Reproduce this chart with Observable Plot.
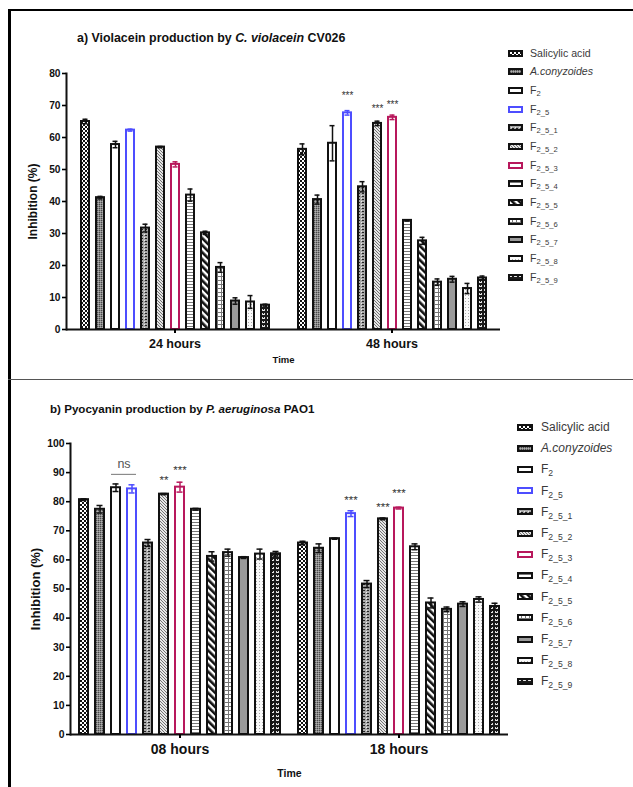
<!DOCTYPE html>
<html>
<head>
<meta charset="utf-8">
<script src="https://cdn.jsdelivr.net/npm/d3@7"></script>
<script src="https://cdn.jsdelivr.net/npm/@observablehq/plot@0.6"></script>
<style>
  body { margin: 0; width: 633px; height: 787px; overflow: hidden; background: #fff; position: relative;
         font-family: "Liberation Sans", Arial, Helvetica, sans-serif; }
  #box { position: absolute; left: 8px; top: 9px; width: 700px; height: 900px;
         border-top: 2.5px solid #000; border-left: 3px solid #000; }
  #sep { position: absolute; left: 8px; top: 379px; width: 700px; border-top: 1.5px solid #555; }
  .chart { position: absolute; left: 0; }
  .title { position: absolute; font-weight: bold; white-space: nowrap; color: #111; line-height: 1; }
  .legend { position: absolute; color: #3a3a3a; }
  .legend .row { position: absolute; left: 0; display: flex; align-items: center; white-space: nowrap; line-height: 1; }
  .legend sub { font-size: 72%; vertical-align: -0.3em; line-height: 0; }
  #defs { position: absolute; width: 0; height: 0; }
</style>
</head>
<body>
<svg id="defs" aria-hidden="true">
  <defs>
    <pattern id="p-sal" width="4" height="4" patternUnits="userSpaceOnUse">
      <rect width="4" height="4" fill="#111"/>
      <rect x="0" y="0" width="2" height="2" fill="#fff"/>
      <rect x="2" y="2" width="2" height="2" fill="#fff"/>
    </pattern>
    <pattern id="p-acon" width="2" height="2" patternUnits="userSpaceOnUse">
      <rect width="2" height="2" fill="#8a8a8a"/>
      <rect width="1" height="1" fill="#4a4a4a"/>
      <rect x="1" y="1" width="1" height="1" fill="#b0b0b0"/>
    </pattern>
    <pattern id="p-51" width="4" height="3" patternUnits="userSpaceOnUse">
      <rect width="4" height="3" fill="#a8a8a8"/>
      <rect x="0" y="1" width="2" height="1" fill="#222"/>
      <rect x="3" y="0" width="1" height="1" fill="#eee"/>
    </pattern>
    <pattern id="p-52" width="3" height="3" patternUnits="userSpaceOnUse">
      <rect width="3" height="3" fill="#e6e6e6"/>
      <path d="M-1,-1 L4,4 M-1,2 L1,4 M2,-1 L4,1" stroke="#666" stroke-width="0.9"/>
    </pattern>
    <pattern id="p-54" width="4" height="3" patternUnits="userSpaceOnUse">
      <rect width="4" height="3" fill="#fff"/>
      <rect y="2" width="4" height="1" fill="#777"/>
    </pattern>
    <pattern id="p-55" width="5" height="5" patternUnits="userSpaceOnUse" patternTransform="rotate(-45)">
      <rect width="5" height="5" fill="#fff"/>
      <rect width="2.6" height="5" fill="#111"/>
    </pattern>
    <pattern id="p-56" width="4" height="4" patternUnits="userSpaceOnUse">
      <rect width="4" height="4" fill="#fff"/>
      <rect width="4" height="1" fill="#777"/>
      <rect width="1" height="4" fill="#777"/>
    </pattern>
    <pattern id="p-58" width="3" height="3" patternUnits="userSpaceOnUse">
      <rect width="3" height="3" fill="#fafafa"/>
      <rect x="1" y="1" width="1" height="1" fill="#aaa"/>
    </pattern>
    <pattern id="p-59" width="5" height="4" patternUnits="userSpaceOnUse">
      <rect width="5" height="4" fill="#1a1a1a"/>
      <rect x="1" y="2" width="3" height="1" fill="#eee"/>
      <rect x="1" y="1" width="1" height="2" fill="#ddd"/>
      <rect x="3" y="1" width="1" height="2" fill="#ddd"/>
    </pattern>
  </defs>
</svg>

<div id="box"></div>
<div id="sep"></div>

<div class="title" style="left:77px; top:32px; font-size:12.4px;">a) Violacein production by <i>C. violacein</i> CV026</div>
<div class="title" style="left:50px; top:403px; font-size:11.6px;">b) Pyocyanin production by <i>P. aeruginosa</i> PAO1</div>

<div id="chartA" class="chart" style="top:60px;"></div>
<div id="chartB" class="chart" style="top:430px;"></div>
<div id="legendA" class="legend" style="left:508px; top:53px;"></div>
<div id="legendB" class="legend" style="left:517px; top:427px;"></div>

<script>
// Treatments, in bar order within each time group
const series = ["Salicylic acid", "A.conyzoides", "F2", "F2_5", "F2_5_1", "F2_5_2", "F2_5_3",
                "F2_5_4", "F2_5_5", "F2_5_6", "F2_5_7", "F2_5_8", "F2_5_9"];

// a) Violacein inhibition (%) by C. violacein CV026
const timesA = ["24 hours", "48 hours"];
const violacein24    = [65.0, 41.2, 57.8, 62.3, 31.7, 57.0, 51.6, 42.0, 30.2, 19.4, 8.9, 8.6, 7.6];
const violacein24Err = [0.7, 0.4, 1.0, 0.3, 1.2, 0.2, 0.8, 1.9, 0.5, 1.5, 1.0, 2.0, 0.3];
const violacein48    = [56.3, 40.6, 58.2, 67.7, 44.6, 64.4, 66.3, 34.1, 27.7, 14.8, 15.7, 12.8, 16.1];
const violacein48Err = [1.7, 1.4, 5.5, 0.7, 1.6, 0.7, 0.7, 0.2, 1.1, 1.0, 0.9, 1.6, 0.6];
const yTicksA = [0, 10, 20, 30, 40, 50, 60, 70, 80];
const sigTimeA   = ["48 hours", "48 hours", "48 hours"];
const sigSeriesA = ["F2_5", "F2_5_2", "F2_5_3"];
const sigLabelA  = ["***", "***", "***"];
const sigLevelA  = [73.0, 68.9, 70.1];

// b) Pyocyanin inhibition (%) by P. aeruginosa PAO1
const timesB = ["08 hours", "18 hours"];
const pyocyanin08    = [80.7, 77.4, 84.8, 84.4, 65.8, 82.6, 85.0, 77.4, 61.2, 62.5, 60.8, 62.0, 62.1];
const pyocyanin08Err = [0.3, 1.3, 1.3, 1.4, 1.2, 0.2, 1.7, 0.3, 1.6, 1.2, 0.3, 1.7, 0.8];
const pyocyanin18    = [65.8, 64.0, 67.3, 75.9, 51.7, 74.1, 77.8, 64.5, 45.2, 43.0, 44.8, 46.4, 44.0];
const pyocyanin18Err = [0.6, 1.5, 0.2, 1.0, 1.2, 0.3, 0.3, 1.0, 1.7, 0.8, 0.8, 0.9, 1.1];
const yTicksB = [0, 10, 20, 30, 40, 50, 60, 70, 80, 90, 100];
const sigTimeB   = ["08 hours", "08 hours", "18 hours", "18 hours", "18 hours"];
const sigSeriesB = ["F2_5_2", "F2_5_3", "F2_5", "F2_5_2", "F2_5_3"];
const sigLabelB  = ["**", "***", "***", "***", "***"];
const sigLevelB  = [87.4, 90.8, 80.5, 78.1, 82.9];
// non-significant comparison F2 vs F2_5 at 08 hours
const nsPair  = ["F2", "F2_5"];
const nsLevel = 89.4;
const nsLabelLevel = 93.0;

// Appearance of each treatment
const FILL = {
  "Salicylic acid": "url(#p-sal)", "A.conyzoides": "url(#p-acon)", "F2": "#fff", "F2_5": "#fff",
  "F2_5_1": "url(#p-51)", "F2_5_2": "url(#p-52)", "F2_5_3": "#fff", "F2_5_4": "url(#p-54)",
  "F2_5_5": "url(#p-55)", "F2_5_6": "url(#p-56)", "F2_5_7": "#9a9a9a", "F2_5_8": "url(#p-58)",
  "F2_5_9": "url(#p-59)"
};
const STROKE = Object.fromEntries(series.map(s => [s, s === "F2_5" ? "#4d4dff" : s === "F2_5_3" ? "#b8185c" : "#111"]));

function rowsOf(times, values, errors) {
  return times.flatMap((t, ti) => series.map((s, si) => ({time: t, series: s, value: values[ti][si], err: errors[ti][si]})));
}

function chart(o) {
  const rows = rowsOf(o.times, o.values, o.errors);
  const sig = o.sigSeries.map((s, i) => ({time: o.sigTime[i], series: s, label: o.sigLabel[i], level: o.sigLevel[i]}));
  const marks = [
    Plot.barY(rows, {fx: "time", x: "series", y: "value", fill: d => FILL[d.series], stroke: d => STROKE[d.series], strokeWidth: 2}),
    Plot.ruleX(rows, {fx: "time", x: "series", y1: d => d.value - d.err, y2: d => d.value + d.err, stroke: d => STROKE[d.series], strokeWidth: 1.5}),
    Plot.tickY(rows, {fx: "time", x: "series", y: d => d.value + d.err, stroke: d => STROKE[d.series], strokeWidth: 1.5, insetLeft: o.cap, insetRight: o.cap}),
    Plot.tickY(rows, {fx: "time", x: "series", y: d => d.value - d.err, stroke: d => STROKE[d.series], strokeWidth: 1.5, insetLeft: o.cap, insetRight: o.cap}),
    Plot.ruleY([0], {stroke: "#111", strokeWidth: 2}),
    Plot.frame({anchor: "left", facetAnchor: "left", stroke: "#111", strokeWidth: 2}),
    Plot.axisY({ticks: o.yTicks, tickSize: 4, tickPadding: 2, strokeWidth: 1.6, fontSize: o.tickFont, fontWeight: "bold", fill: "#111", label: null}),
    Plot.axisY({ticks: [], label: "Inhibition (%)", labelArrow: false, labelAnchor: "center", labelOffset: o.yLabelOffset, fontSize: o.yLabelFont, fontWeight: "bold", fill: "#111"}),
    Plot.axisFx({anchor: "bottom", tickSize: 4, tickPadding: o.fxPad, strokeWidth: 2, fontSize: o.fxFont, fontWeight: "bold", fill: "#111", label: null}),
    Plot.axisFx({anchor: "bottom", ticks: [], label: "Time", labelArrow: false, labelAnchor: "center", labelOffset: o.timeOffset, fontSize: o.timeFont, fontWeight: "bold", fill: "#111"}),
    Plot.text(sig, {fx: "time", x: "series", y: "level", text: "label", fontSize: o.sigFont, fill: "#333"})
  ];
  if (o.extra) marks.push(...o.extra);
  return Plot.plot({
    width: o.width, height: o.height,
    marginLeft: o.marginLeft, marginRight: 10, marginTop: 13, marginBottom: o.marginBottom,
    style: {fontFamily: "'Liberation Sans', Arial, sans-serif", background: "transparent", overflow: "visible"},
    fx: {domain: o.times, paddingInner: 0, paddingOuter: 0, label: null},
    x: {domain: series, paddingInner: o.pi, paddingOuter: o.po, axis: null},
    y: {domain: o.yDomain, axis: null},
    color: {type: "identity"},
    marks
  });
}

document.getElementById("chartA").append(chart({
  times: timesA, values: [violacein24, violacein48], errors: [violacein24Err, violacein48Err],
  sigTime: sigTimeA, sigSeries: sigSeriesA, sigLabel: sigLabelA, sigLevel: sigLevelA,
  width: 510, height: 310, marginLeft: 65, marginBottom: 41, yDomain: [0, 80], yTicks: yTicksA,
  pi: 0.5, po: 0.547, cap: 1.5, tickFont: 10.2, yLabelFont: 12, yLabelOffset: 38,
  fxFont: 12.5, fxPad: 6, timeFont: 9.5, timeOffset: 33, sigFont: 10
}));

document.getElementById("chartB").append(chart({
  times: timesB, values: [pyocyanin08, pyocyanin18], errors: [pyocyanin08Err, pyocyanin18Err],
  sigTime: sigTimeB, sigSeries: sigSeriesB, sigLabel: sigLabelB, sigLevel: sigLevelB,
  width: 518, height: 357, marginLeft: 70, marginBottom: 53, yDomain: [0, 100], yTicks: yTicksB,
  pi: 0.446, po: 0.461, cap: 1.5, tickFont: 10.4, yLabelFont: 13, yLabelOffset: 40,
  fxFont: 14, fxPad: 6, timeFont: 10.5, timeOffset: 42, sigFont: 11.5,
  extra: [
    Plot.ruleY([{time: timesB[0], a: nsPair[0], b: nsPair[1], level: nsLevel}], {fx: "time", x1: "a", x2: "b", y: "level", stroke: "#777", strokeWidth: 1}),
    Plot.text([{time: timesB[0], series: nsPair[0], level: nsLabelLevel}], {fx: "time", x: "series", y: "level", text: () => "ns", dx: 8, fontSize: 12.5, fill: "#555"})
  ]
}));

// Legends
function legendLabel(name) {
  if (/^F\d/.test(name)) return `F<sub>${name.slice(1)}</sub>`;
  if (name === "A.conyzoides") return `<i>${name}</i>`;
  return name;
}
function legend(id, o) {
  const el = document.getElementById(id);
  series.forEach((s, i) => {
    const row = document.createElement("div");
    row.className = "row";
    row.style.top = (i * o.step - o.rowH / 2) + "px";
    row.style.height = o.rowH + "px";
    row.style.fontSize = o.font + "px";
    row.innerHTML =
      `<svg width="${o.sw + 2}" height="${o.sh + 2}" style="margin-right:${o.gap}px;flex:none">` +
      `<rect x="1" y="1" width="${o.sw}" height="${o.sh}" fill="${FILL[s]}" stroke="${STROKE[s]}" stroke-width="2"/></svg>` +
      `<span>${legendLabel(s)}</span>`;
    el.append(row);
  });
}
legend("legendA", {step: 18.67, rowH: 14, font: 10.6, sw: 13, sh: 5, gap: 7});
legend("legendB", {step: 21.2, rowH: 16, font: 12, sw: 14, sh: 5, gap: 8});
</script>
</body>
</html>
